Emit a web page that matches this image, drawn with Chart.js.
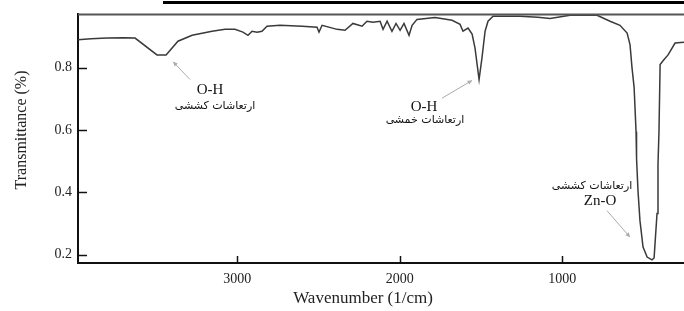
<!DOCTYPE html>
<html>
<head>
<meta charset="utf-8">
<script src="https://cdn.jsdelivr.net/npm/chart.js@4.4.1/dist/chart.umd.min.js"></script>
<style>
  body { margin: 0; background: #fff; }
  canvas { display: block; }
</style>
</head>
<body>
<canvas id="irChart" width="684" height="311"></canvas>
<script>
// FTIR spectrum (wavenumber in 1/cm, transmittance)
const wavenumbers = [3980, 3900, 3800, 3700, 3629, 3494, 3438, 3365, 3278, 3155, 3075, 3014,
  2965, 2934, 2909, 2878, 2848, 2817, 2737, 2600, 2509, 2497, 2478, 2386, 2337, 2288, 2232,
  2202, 2165, 2121, 2103, 2078, 2048, 2023, 1998, 1974, 1943, 1924, 1894, 1783, 1678, 1629,
  1611, 1580, 1555, 1537, 1512, 1494, 1475, 1457, 1426, 1260, 1150, 1075, 952, 786, 706,
  645, 601, 583, 571, 558, 546, 543, 534, 522, 503, 478, 448, 435, 417, 411, 405, 398,
  380, 349, 306, 251];
const transmittance = [0.890, 0.893, 0.895, 0.896, 0.895, 0.841, 0.841, 0.885, 0.904, 0.917, 0.923, 0.923,
  0.914, 0.904, 0.917, 0.914, 0.917, 0.933, 0.936, 0.933, 0.930, 0.914, 0.936, 0.923, 0.920, 0.942, 0.933,
  0.949, 0.946, 0.949, 0.923, 0.949, 0.917, 0.942, 0.920, 0.942, 0.904, 0.936, 0.955, 0.961, 0.952, 0.939,
  0.917, 0.927, 0.908, 0.863, 0.762, 0.832, 0.917, 0.949, 0.965, 0.965, 0.962, 0.958, 0.968, 0.968, 0.949,
  0.936, 0.911, 0.873, 0.800, 0.737, 0.594, 0.509, 0.404, 0.309, 0.224, 0.192, 0.183, 0.189, 0.332, 0.490, 0.594, 0.810,
  0.822, 0.841, 0.879, 0.882];

const xTicks = [3000, 2000, 1000];
const yTicks = [0.2, 0.4, 0.6, 0.8];

const xTitle = "Wavenumber (1/cm)";
const yTitle = "Transmittance (%)";

// band labels: [wavenumber, transmittance] anchors for text and arrows
const bandLabels = [
  { name: "O-H", note: "ارتعاشات کششی", namePos: [3168, 0.727], notePos: [3137, 0.677],
    arrowFrom: [3291, 0.762], arrowTo: [3395, 0.819] },
  { name: "O-H", note: "ارتعاشات خمشی", namePos: [1851, 0.673], notePos: [1845, 0.632],
    arrowFrom: [1740, 0.702], arrowTo: [1555, 0.759] },
  { name: "Zn-O", note: "ارتعاشات کششی", namePos: [768, 0.373], notePos: [817, 0.420],
    arrowFrom: [725, 0.341], arrowTo: [583, 0.256] }
];

const points = wavenumbers.map((w, i) => ({ x: w, y: transmittance[i] }));

const serif = "'Liberation Serif', 'Times New Roman', serif";

const decorPlugin = {
  id: "decor",
  afterDraw(chart) {
    const ctx = chart.ctx;
    const area = chart.chartArea;
    const xs = chart.scales.x, ys = chart.scales.y;
    ctx.save();

    // thick rule at very top (from the cropped source page)
    ctx.fillStyle = "#000";
    ctx.fillRect(163, 1, chart.width - 163, 3);

    // top frame line
    ctx.strokeStyle = "#555";
    ctx.lineWidth = 2;
    ctx.beginPath();
    ctx.moveTo(area.left, area.top);
    ctx.lineTo(area.right, area.top);
    ctx.stroke();

    // inward tick marks
    ctx.strokeStyle = "#111";
    ctx.lineWidth = 1.5;
    yTicks.forEach(v => {
      const py = Math.round(ys.getPixelForValue(v)) + 0.5;
      ctx.beginPath();
      ctx.moveTo(area.left, py);
      ctx.lineTo(area.left + 9, py);
      ctx.stroke();
    });
    xTicks.forEach(v => {
      const px = Math.round(xs.getPixelForValue(v)) + 0.5;
      ctx.beginPath();
      ctx.moveTo(px, area.bottom);
      ctx.lineTo(px, area.bottom - 7);
      ctx.stroke();
    });

    // axis titles
    ctx.fillStyle = "#222";
    ctx.textAlign = "center";
    ctx.textBaseline = "middle";
    ctx.font = "17px " + serif;
    ctx.fillText(xTitle, xs.getPixelForValue(2226), 299);
    ctx.save();
    ctx.translate(22, ys.getPixelForValue(0.6));
    ctx.rotate(-Math.PI / 2);
    ctx.font = "16px " + serif;
    ctx.fillText(yTitle, 0, 0);
    ctx.restore();

    // band annotations
    bandLabels.forEach(b => {
      ctx.fillStyle = "#111";
      ctx.font = "15px " + serif;
      ctx.fillText(b.name, xs.getPixelForValue(b.namePos[0]), ys.getPixelForValue(b.namePos[1]));
      ctx.font = "11px 'DejaVu Sans', sans-serif";
      ctx.fillText(b.note, xs.getPixelForValue(b.notePos[0]), ys.getPixelForValue(b.notePos[1]));

      const x1 = xs.getPixelForValue(b.arrowFrom[0]), y1 = ys.getPixelForValue(b.arrowFrom[1]);
      const x2 = xs.getPixelForValue(b.arrowTo[0]), y2 = ys.getPixelForValue(b.arrowTo[1]);
      ctx.strokeStyle = "#aaa";
      ctx.fillStyle = "#aaa";
      ctx.lineWidth = 1;
      ctx.beginPath();
      ctx.moveTo(x1, y1);
      ctx.lineTo(x2, y2);
      ctx.stroke();
      const ang = Math.atan2(y2 - y1, x2 - x1);
      ctx.beginPath();
      ctx.moveTo(x2, y2);
      ctx.lineTo(x2 - 5 * Math.cos(ang - 0.45), y2 - 5 * Math.sin(ang - 0.45));
      ctx.lineTo(x2 - 5 * Math.cos(ang + 0.45), y2 - 5 * Math.sin(ang + 0.45));
      ctx.closePath();
      ctx.fill();
    });
    ctx.restore();
  }
};

new Chart(document.getElementById("irChart"), {
  type: "line",
  data: {
    datasets: [{
      data: points,
      borderColor: "#3a3a3a",
      borderWidth: 1.5,
      pointRadius: 0,
      tension: 0,
      fill: false
    }]
  },
  options: {
    responsive: false,
    animation: false,
    layout: { padding: { top: 11, right: 0, left: 0, bottom: 0 } },
    plugins: { legend: { display: false }, tooltip: { enabled: false } },
    scales: {
      x: {
        type: "linear",
        reverse: true,
        min: 251,
        max: 3980,
        afterBuildTicks: s => { s.ticks = xTicks.map(v => ({ value: v })); },
        afterFit: s => { s.height = 48; },
        grid: { drawOnChartArea: false, drawTicks: false },
        border: { color: "#111", width: 2 },
        ticks: { padding: 8, color: "#222", font: { family: serif, size: 14 }, maxRotation: 0,
          callback: v => String(v) }
      },
      y: {
        min: 0.173,
        max: 0.971,
        afterBuildTicks: s => { s.ticks = yTicks.map(v => ({ value: v })); },
        afterFit: s => { s.width = 78; },
        grid: { drawOnChartArea: false, drawTicks: false },
        border: { color: "#111", width: 2 },
        ticks: { padding: 6, color: "#222", font: { family: serif, size: 14 },
          callback: v => v.toFixed(1) }
      }
    }
  },
  plugins: [decorPlugin]
});
</script>
</body>
</html>
